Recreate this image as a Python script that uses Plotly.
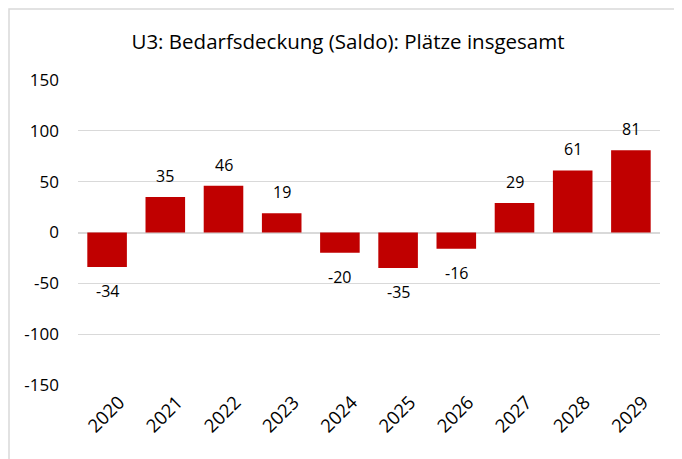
import plotly.graph_objects as go

years = ["2020", "2021", "2022", "2023", "2024", "2025", "2026", "2027", "2028", "2029"]
saldo = [-34, 35, 46, 19, -20, -35, -16, 29, 61, 81]
y_ticks = [-150, -100, -50, 0, 50, 100, 150]
y_tick_text = ["-150", "-100", "-50", "0", "50", "100", "150"]

# page has an 8px body margin, so the figure is a bit smaller than the window
W, H = 674, 451
ml, mr, mt, mb = 70, 22, 72, 74
pw, ph = W - ml - mr, H - mt - mb

fig = go.Figure()
fig.add_trace(go.Bar(
    x=years, y=saldo,
    marker_color="#C00000", marker_line_width=0,
    width=0.68,
))

# value labels outside the bar ends (category axis -> serial index)
for i, v in enumerate(saldo):
    fig.add_annotation(x=i, y=v, text=str(v), showarrow=False,
                       yanchor="middle", yshift=21 if v >= 0 else -24,
                       font=dict(size=16, color="#000000"))

fig.update_layout(
    width=W, height=H,
    margin=dict(l=ml, r=mr, t=mt, b=mb, autoexpand=False),
    paper_bgcolor="white", plot_bgcolor="white",
    font=dict(family="Open Sans, Liberation Sans, sans-serif", color="#000000"),
    title=dict(text="U3: Bedarfsdeckung (Saldo): Plätze insgesamt",
               x=340 / W, xanchor="center", xref="container",
               y=1 - 34 / H, yanchor="middle", yref="container",
               font=dict(size=20.5, color="#000000")),
    showlegend=False,
    shapes=[dict(type="rect", xref="paper", yref="paper",
                 x0=(1 - ml) / pw, x1=1.2,
                 y0=-0.5, y1=(H - mb - 1) / ph,
                 line=dict(color="#D9D9D9", width=1.5), layer="below")],
)
fig.update_xaxes(type="category", range=[-0.5, len(years) - 0.5],
                 tickangle=-45, tickfont=dict(size=18.5),
                 showgrid=False, showline=False, ticks="",
                 ticklabelshift=12, ticklabelstandoff=2)
fig.update_yaxes(range=[-150, 150], tickvals=y_ticks, ticktext=y_tick_text,
                 tickfont=dict(size=17),
                 gridcolor="#D9D9D9", gridwidth=1.2, zeroline=True,
                 zerolinecolor="#D9D9D9", zerolinewidth=1.5, showline=False,
                 ticks="", ticklabelstandoff=18)

fig.write_html("out.html")
